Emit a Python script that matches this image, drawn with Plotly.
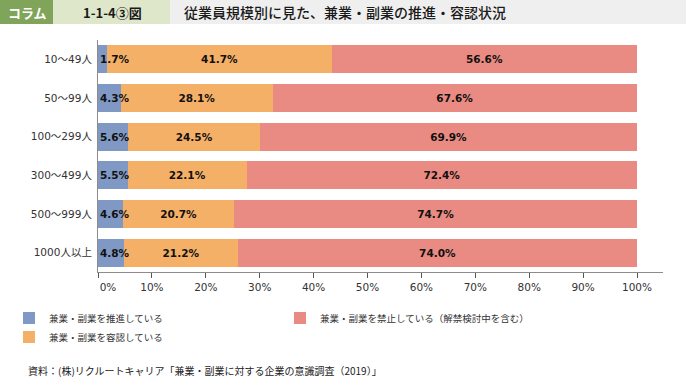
import plotly.graph_objects as go

# ---- data ----
categories = ["10～49人", "50～99人", "100～299人", "300～499人", "500～999人", "1000人以上"]
promote = [1.7, 4.3, 5.6, 5.5, 4.6, 4.8]
allow = [41.7, 28.1, 24.5, 22.1, 20.7, 21.2]
prohibit = [56.6, 67.6, 69.9, 72.4, 74.7, 74.0]
series_names = ["兼業・副業を推進している", "兼業・副業を容認している", "兼業・副業を禁止している（解禁検討中を含む）"]
tick_vals = [0, 10, 20, 30, 40, 50, 60, 70, 80, 90, 100]
tick_text = ["\u00a0\u00a0\u00a0\u00a0\u00a0\u00a00%"] + [f"{v}%" for v in tick_vals[1:]]

W, H = 686, 377
L, R, T, B = 98, 23, 40, 105
PW, PH = W - L - R, H - T - B

def px(x):
    return (x - L) / PW

def py(y):
    return (H - B - y) / PH

CJK = "Noto Sans CJK JP"
LAT = "DejaVu Sans, Noto Sans CJK JP"
colors = ["#7f98c4", "#f5b067", "#e98b82"]

fig = go.Figure()
label_font = dict(family="DejaVu Sans", size=10.5, color="#111111", weight="bold")

fig.add_trace(go.Bar(
    y=categories, x=promote, orientation="h", name=series_names[0],
    marker=dict(color=colors[0], line=dict(width=0)),
    legend="legend", hoverinfo="skip",
))
fig.add_trace(go.Bar(
    y=categories, x=allow, orientation="h", name=series_names[1],
    marker=dict(color=colors[1], line=dict(width=0)),
    text=[f"{v:.1f}%" for v in allow], textposition="inside", textangle=0,
    insidetextanchor="middle", constraintext="none", textfont=label_font,
    legend="legend", hoverinfo="skip",
))
fig.add_trace(go.Bar(
    y=categories, x=prohibit, orientation="h", name=series_names[2],
    marker=dict(color=colors[2], line=dict(width=0)),
    text=[f"{v:.1f}%" for v in prohibit], textposition="inside", textangle=0,
    insidetextanchor="middle", constraintext="none", textfont=label_font,
    legend="legend2", hoverinfo="skip",
))

shapes = [
    dict(type="rect", xref="paper", yref="paper", x0=px(0), x1=px(53), y0=py(24), y1=py(0),
         fillcolor="#7fa45a", line=dict(width=0), layer="below"),
    dict(type="rect", xref="paper", yref="paper", x0=px(53), x1=px(170), y0=py(24), y1=py(0),
         fillcolor="#dfe7cb", line=dict(width=0), layer="below"),
    dict(type="rect", xref="paper", yref="paper", x0=px(170), x1=px(W), y0=py(24), y1=py(0),
         fillcolor="#efefef", line=dict(width=0), layer="below"),
]

annotations = [
    dict(text="<b>コラム</b>", x=px(27), y=py(12.5), xref="paper", yref="paper",
         xanchor="center", yanchor="middle", showarrow=False,
         font=dict(family=CJK, size=13, color="#ffffff")),
    dict(text="<b>1-1-4③図</b>", x=px(112), y=py(12.5), xref="paper", yref="paper",
         xanchor="center", yanchor="middle", showarrow=False,
         font=dict(family=CJK, size=13, color="#1a1a1a")),
    dict(text="従業員規模別に見た、兼業・副業の推進・容認状況", x=px(182), y=py(12.5),
         xref="paper", yref="paper", xanchor="left", yanchor="middle", showarrow=False,
         font=dict(family=CJK, size=14, color="#1a1a1a", weight=500)),
    dict(text="資料：(株)リクルートキャリア「兼業・副業に対する企業の意識調査（2019）」",
         x=px(26), y=py(370), xref="paper", yref="paper", xanchor="left", yanchor="middle",
         showarrow=False, font=dict(family=CJK, size=10, color="#222222")),
]
# labels for the thin first segment, anchored at the bar start so they can overflow
for cat, v in zip(categories, promote):
    annotations.append(dict(
        text=f"{v:.1f}%", x=0, y=cat, xref="x", yref="y", xanchor="left", yanchor="middle",
        xshift=0, showarrow=False, font=label_font,
    ))

fig.update_layout(
    width=W, height=H,
    margin=dict(l=L, r=R, t=T, b=B, autoexpand=False),
    barmode="stack", bargap=0.27,
    plot_bgcolor="white", paper_bgcolor="white",
    showlegend=True,
    legend=dict(x=px(9), y=py(303.5), xanchor="left", yanchor="top", xref="paper", yref="paper",
                orientation="v", font=dict(family=CJK, size=9.5, color="#333333"),
                bgcolor="rgba(0,0,0,0)", tracegroupgap=0, traceorder="normal"),
    legend2=dict(x=px(280), y=py(303.5), xanchor="left", yanchor="top", xref="paper", yref="paper",
                 orientation="v", font=dict(family=CJK, size=9.5, color="#333333"),
                 bgcolor="rgba(0,0,0,0)"),
    xaxis=dict(range=[0, PW * 100 / 539], tickvals=tick_vals, ticktext=tick_text,
               showgrid=False, zeroline=False, showline=True, linecolor="#8c8c8c", linewidth=1,
               ticks="outside", ticklen=5, tickcolor="#555555",
               tickfont=dict(family=LAT, size=10.5, color="#333333"), fixedrange=True),
    yaxis=dict(autorange="reversed", showgrid=False, zeroline=False, showline=True,
               linecolor="#8c8c8c", linewidth=1, ticks="", ticklabelstandoff=3,
               tickfont=dict(family=LAT, size=10.5, color="#333333"), fixedrange=True),
    shapes=shapes, annotations=annotations,
)

fig.write_html(
    "out.html",
    config={"displayModeBar": False},
    post_script="document.body.style.margin='0';document.body.style.padding='0';",
)
